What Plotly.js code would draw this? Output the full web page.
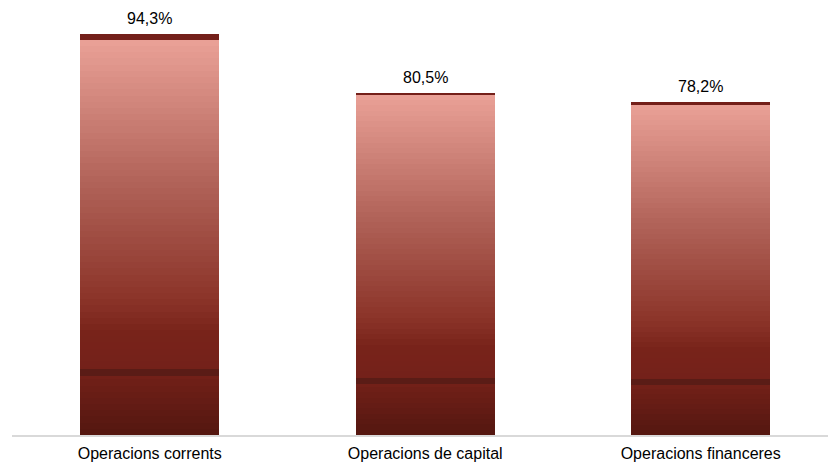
<!DOCTYPE html>
<html>
<head>
<meta charset="utf-8">
<script src="https://cdn.plot.ly/plotly-3.0.1.min.js"></script>
<style>html,body{margin:0;padding:0;background:#fff;}#chart{width:828px;height:466px;}</style>
</head>
<body>
<div id="chart"></div>
<script>
// ---- data ----
const categories = ["Operacions corrents", "Operacions de capital", "Operacions financeres"];
const values = [94.3, 80.5, 78.2];
const valueLabels = ["94,3%", "80,5%", "78,2%"];
const capHeights = [1.4, 0.5, 0.5];

// ---- gradient styling (fraction of bar height -> colour) ----
const stops = [
  [0.00, [0x53, 0x17, 0x10]],
  [0.15, [0x72, 0x20, 0x18]],
  [0.17, [0x74, 0x21, 0x1a]],
  [0.26, [0x78, 0x23, 0x1a]],
  [0.34, [0x8a, 0x33, 0x28]],
  [0.66, [0xb4, 0x66, 0x5c]],
  [1.00, [0xea, 0xa1, 0x97]]
];
function colorAt(f) {
  for (let i = 0; i < stops.length - 1; i++) {
    const [f0, c0] = stops[i], [f1, c1] = stops[i + 1];
    if (f >= f0 && f <= f1) {
      const t = (f - f0) / (f1 - f0);
      const c = c0.map((v, k) => Math.round(v + (c1[k] - v) * t));
      return `rgb(${c[0]},${c[1]},${c[2]})`;
    }
  }
  const c = stops[stops.length - 1][1];
  return `rgb(${c[0]},${c[1]},${c[2]})`;
}
const N = 64;
const stripe = [0.150, 0.168];
const segs = [];
for (let i = 0; i < N; i++) {
  const a = i / N, b = (i + 1) / N;
  segs.push([a, b, colorAt((a + b) / 2)]);
}
const finalSegs = [];
segs.forEach(([a, b, col]) => {
  if (b <= stripe[0] || a >= stripe[1]) { finalSegs.push([a, b, col]); return; }
  if (a < stripe[0]) finalSegs.push([a, stripe[0], col]);
  if (b > stripe[1]) finalSegs.push([stripe[1], b, col]);
});
finalSegs.push([stripe[0], stripe[1], "rgb(90,28,22)"]);
finalSegs.sort((p, q) => p[0] - q[0]);

const traces = finalSegs.map(([a, b, col]) => ({
  type: "bar",
  x: categories,
  y: values.map((v, i) => (v - capHeights[i]) * (b - a)),
  marker: { color: col, line: { width: 0 } },
  width: 0.505,
  hoverinfo: "skip",
  showlegend: false
}));
traces.push({
  type: "bar",
  x: categories,
  y: capHeights,
  marker: { color: "#74201a", line: { width: 0 } },
  width: 0.505,
  hoverinfo: "skip",
  showlegend: false
});

const annotations = categories.map((c, i) => ({
  x: c, y: values[i], text: valueLabels[i], showarrow: false,
  yanchor: "bottom", yshift: 5,
  font: { family: "Liberation Sans, Arial, sans-serif", size: 16, color: "#000" }
}));

const layout = {
  width: 828, height: 466,
  margin: { l: 12, r: 0, t: 0, b: 31 },
  paper_bgcolor: "#fff", plot_bgcolor: "#fff",
  barmode: "stack", bargap: 0,
  showlegend: false,
  font: { family: "Liberation Sans, Arial, sans-serif", size: 16, color: "#000" },
  xaxis: {
    type: "category", range: [-0.5, 2.462],
    showline: true, linecolor: "#d9d9d9", linewidth: 2,
    showgrid: false, zeroline: false, ticks: "", ticklen: 0,
    ticklabelstandoff: 3,
    tickfont: { size: 16, color: "#000" }
  },
  yaxis: {
    range: [0, 102.3], visible: false, showgrid: false, zeroline: false, fixedrange: true
  },
  annotations: annotations
};
Plotly.newPlot("chart", traces, layout, { displayModeBar: false, staticPlot: true });
</script>
</body>
</html>
